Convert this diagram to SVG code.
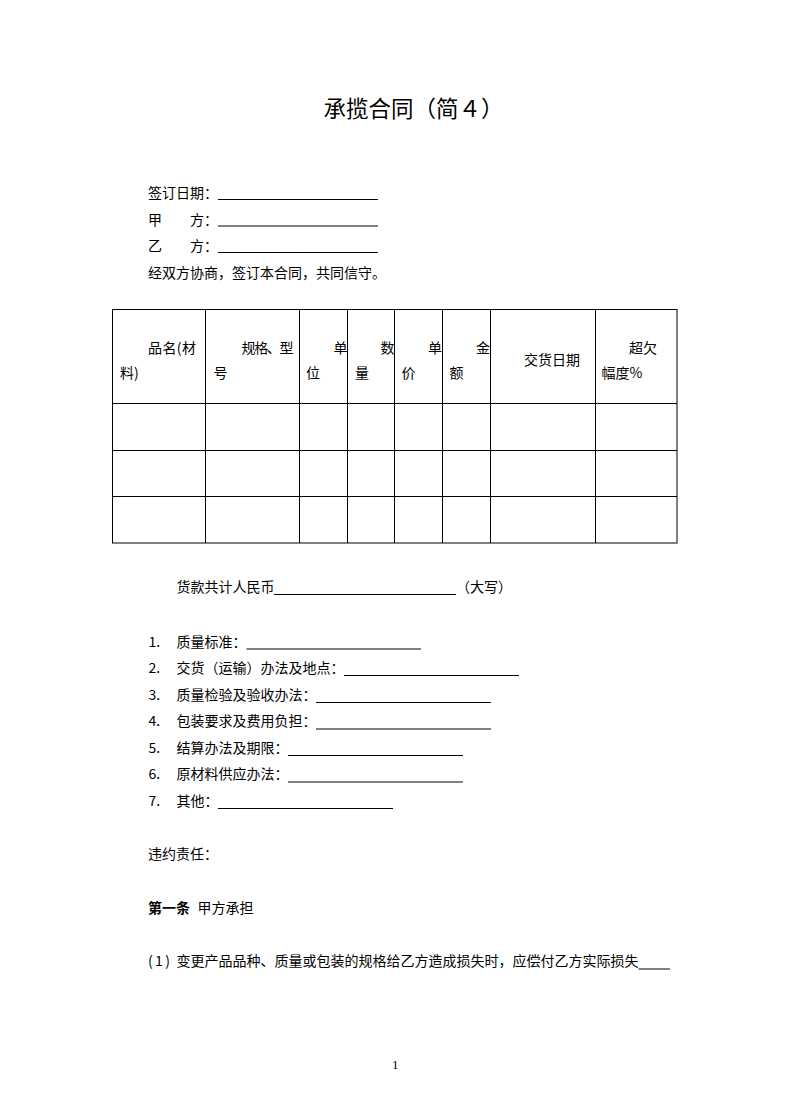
<svg xmlns="http://www.w3.org/2000/svg" width="790" height="1119" viewBox="0 0 790 1119">
<style>
  text { font-family: "Noto Sans CJK SC", "Noto Sans", sans-serif; font-size: 14px; fill: #000; }
  .title { font-size: 22.5px; }
  .bold { font-weight: bold; }
  .pn { font-family: "Liberation Serif", serif; font-size: 13px; }
  .ul { stroke: #000; stroke-width: 1; }
  .grid { stroke: #000; stroke-width: 1; fill: none; }
</style>
<rect x="0" y="0" width="790" height="1119" fill="#fff"/>

<g id="title">
  <text class="title" x="323.5" y="117" textLength="180">承揽合同（简４）</text>
</g>

<g id="header-fields">
  <text x="148" y="198">签订日期：</text>
  <line class="ul" x1="218" y1="199.5" x2="378" y2="199.5"/>
  <text x="148" y="224.5">甲</text>
  <text x="190" y="224.5">方：</text>
  <line class="ul" x1="218" y1="226" x2="378" y2="226"/>
  <text x="148" y="251">乙</text>
  <text x="190" y="251">方：</text>
  <line class="ul" x1="218" y1="252.5" x2="378" y2="252.5"/>
  <text x="148" y="277.5">经双方协商，签订本合同，共同信守。</text>
</g>

<g id="table">
  <rect class="grid" x="112.5" y="309.5" width="564.5" height="233.5"/>
  <line class="grid" x1="112.5" y1="403.5" x2="677" y2="403.5"/>
  <line class="grid" x1="112.5" y1="450.5" x2="677" y2="450.5"/>
  <line class="grid" x1="112.5" y1="496.5" x2="677" y2="496.5"/>
  <line class="grid" x1="205.5" y1="309.5" x2="205.5" y2="543"/>
  <line class="grid" x1="299.5" y1="309.5" x2="299.5" y2="543"/>
  <line class="grid" x1="347.5" y1="309.5" x2="347.5" y2="543"/>
  <line class="grid" x1="394.5" y1="309.5" x2="394.5" y2="543"/>
  <line class="grid" x1="442.5" y1="309.5" x2="442.5" y2="543"/>
  <line class="grid" x1="490.5" y1="309.5" x2="490.5" y2="543"/>
  <line class="grid" x1="595.5" y1="309.5" x2="595.5" y2="543"/>
  <text x="148" y="353" textLength="48">品名(材</text>
  <text x="120" y="378">料)</text>
  <text x="241.5" y="353" textLength="52">规格、型</text>
  <text x="213.5" y="378">号</text>
  <text x="333.5" y="353">单</text>
  <text x="306" y="378">位</text>
  <text x="380.5" y="353">数</text>
  <text x="355" y="378">量</text>
  <text x="428" y="353">单</text>
  <text x="401.5" y="378">价</text>
  <text x="476" y="353">金</text>
  <text x="449.5" y="378">额</text>
  <text x="524" y="365">交货日期</text>
  <text x="629" y="353">超欠</text>
  <text x="601.5" y="378">幅度%</text>
</g>

<g id="total">
  <text x="176.5" y="592">货款共计人民币</text>
  <line class="ul" x1="274" y1="594.5" x2="456" y2="594.5"/>
  <text x="456" y="592">（大写）</text>
</g>

<g id="items">
  <text x="148.5" y="646.5">1.</text>
  <text x="176.5" y="646.5">质量标准：</text>
  <line class="ul" x1="246.5" y1="649" x2="421" y2="649"/>
  <text x="148.5" y="673">2.</text>
  <text x="176.5" y="673">交货（运输）办法及地点：</text>
  <line class="ul" x1="344" y1="675.5" x2="519" y2="675.5"/>
  <text x="148.5" y="699.5">3.</text>
  <text x="176.5" y="699.5">质量检验及验收办法：</text>
  <line class="ul" x1="316" y1="702.5" x2="491" y2="702.5"/>
  <text x="148.5" y="726">4.</text>
  <text x="176.5" y="726">包装要求及费用负担：</text>
  <line class="ul" x1="316" y1="729" x2="491" y2="729"/>
  <text x="148.5" y="752.5">5.</text>
  <text x="176.5" y="752.5">结算办法及期限：</text>
  <line class="ul" x1="288" y1="755.5" x2="463" y2="755.5"/>
  <text x="148.5" y="779">6.</text>
  <text x="176.5" y="779">原材料供应办法：</text>
  <line class="ul" x1="288" y1="782" x2="463" y2="782"/>
  <text x="148.5" y="805.5">7.</text>
  <text x="176.5" y="805.5">其他：</text>
  <line class="ul" x1="218" y1="808.5" x2="393" y2="808.5"/>
</g>

<g id="liability">
  <text x="148" y="859">违约责任：</text>
  <text class="bold" x="148" y="913">第一条</text>
  <text x="197.5" y="913">甲方承担</text>
  <text x="148" y="966" textLength="22">(1)</text>
  <text x="176.5" y="966" textLength="462">变更产品品种、质量或包装的规格给乙方造成损失时，应偿付乙方实际损失</text>
  <line class="ul" x1="638.5" y1="969" x2="670" y2="969"/>
</g>

<g id="page-number">
  <text class="pn" x="392" y="1069">1</text>
</g>
</svg>
